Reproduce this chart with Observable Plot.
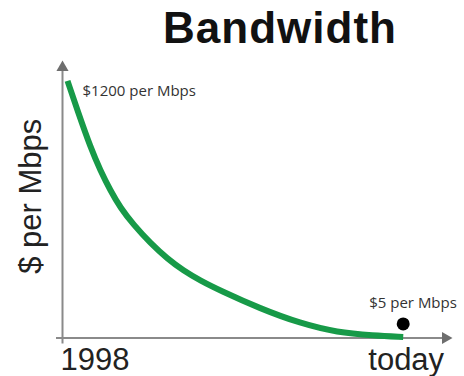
<!DOCTYPE html>
<html>
<head>
<meta charset="utf-8">
<script src="https://cdn.jsdelivr.net/npm/d3@7"></script>
<script src="https://cdn.jsdelivr.net/npm/@observablehq/plot@0.6"></script>
<style>
  html, body { margin: 0; padding: 0; background: #fff; }
  #wrap { width: 464px; height: 376px; overflow: hidden; }
  #title {
    height: 52px; box-sizing: border-box; padding-top: 5px; padding-left: 96px;
    text-align: center; font-family: "Liberation Sans", Arial, sans-serif;
    font-weight: bold; font-size: 44px; line-height: 46px; letter-spacing: 1px; color: #111;
    white-space: nowrap;
  }
</style>
</head>
<body>
<div id="wrap">
  <div id="title">Bandwidth</div>
  <div id="chart"></div>
</div>
<script>
// Data
const years  = [1998, 1998.48, 1999.10, 1999.57, 2000.05, 2000.52, 2001.14, 2001.95, 2002.76, 2003.52, 2004.33, 2005.29, 2007.19, 2009.10, 2010.86, 2012.57, 2014];
const prices = [1200, 1060, 888, 781, 687, 608, 529, 443, 370, 315, 268, 221, 137, 68, 26, 12, 5];
const tickLabels = ["1998", "today"];
const yLabel = "$ per Mbps";
const startNote = "$1200 per Mbps";
const endNote = "$5 per Mbps";
const xDomain = [1997.76, 2016.35];
const yDomain = [0, 1295];

const series = years.map((x, i) => ({x, y: prices[i]}));
const first = series[0];
const last = series[series.length - 1];
const axisGray = "#8a8a8a";
const green = "#179a48";
const bigFont = "Liberation Sans, Arial, sans-serif";
const smallFont = "Open Sans, sans-serif";

const chart = Plot.plot({
  width: 464,
  height: 324,
  marginLeft: 62,
  marginRight: 12,
  marginTop: 8,
  marginBottom: 38.5,
  x: {domain: xDomain, axis: null},
  y: {domain: yDomain, axis: null},
  marks: [
    // axis lines
    Plot.ruleX([xDomain[0]], {y1: yDomain[0], y2: yDomain[1], stroke: axisGray, strokeWidth: 2, dy: 6}),
    Plot.ruleY([yDomain[0]], {x1: xDomain[0], x2: xDomain[1], stroke: axisGray, strokeWidth: 2, dx: -6}),
    // arrow heads
    Plot.dot([{x: xDomain[0], y: yDomain[1]}], {x: "x", y: "y", symbol: "triangle", r: 4.5, fill: "#6e6e6e", stroke: null, dy: 7}),
    Plot.dot([{x: xDomain[1], y: yDomain[0]}], {x: "x", y: "y", symbol: "triangle", r: 4.5, fill: "#6e6e6e", stroke: null, rotate: 90, dx: -7}),
    // curve
    Plot.line(series, {x: "x", y: "y", stroke: green, strokeWidth: 6, curve: "basis", strokeLinecap: "butt"}),
    // end dot
    Plot.dot([last], {x: "x", y: "y", r: 6.5, fill: "#000", stroke: null, dy: -13}),
    // annotations
    Plot.text([startNote], {x: first.x, y: first.y, text: d => d, textAnchor: "start", lineAnchor: "middle", dx: 15, dy: 10,
      fontSize: 15, fontFamily: smallFont, fill: "#333", letterSpacing: 0.6}),
    Plot.text([endNote], {x: last.x, y: last.y, text: d => d, textAnchor: "start", lineAnchor: "middle", dx: -34, dy: -34,
      fontSize: 15, fontFamily: smallFont, fill: "#333", letterSpacing: 0.6}),
    // tick labels
    Plot.text([tickLabels[0]], {x: xDomain[0], y: yDomain[0], text: d => d, textAnchor: "start", lineAnchor: "top", dx: -2, dy: 10,
      fontSize: 31, fontFamily: bigFont, fill: "#222", letterSpacing: 2.5}),
    Plot.text([tickLabels[1]], {x: last.x, y: yDomain[0], text: d => d, textAnchor: "middle", lineAnchor: "top", dx: 3, dy: 10,
      fontSize: 31, fontFamily: bigFont, fill: "#222", letterSpacing: 2.5}),
    // y label
    Plot.text([yLabel], {frameAnchor: "left", text: d => d, rotate: -90, textAnchor: "middle", lineAnchor: "middle", dx: -31, dy: -3,
      fontSize: 31, fontFamily: bigFont, fill: "#222", letterSpacing: 2})
  ]
});
document.getElementById("chart").appendChild(chart);
</script>
</body>
</html>
